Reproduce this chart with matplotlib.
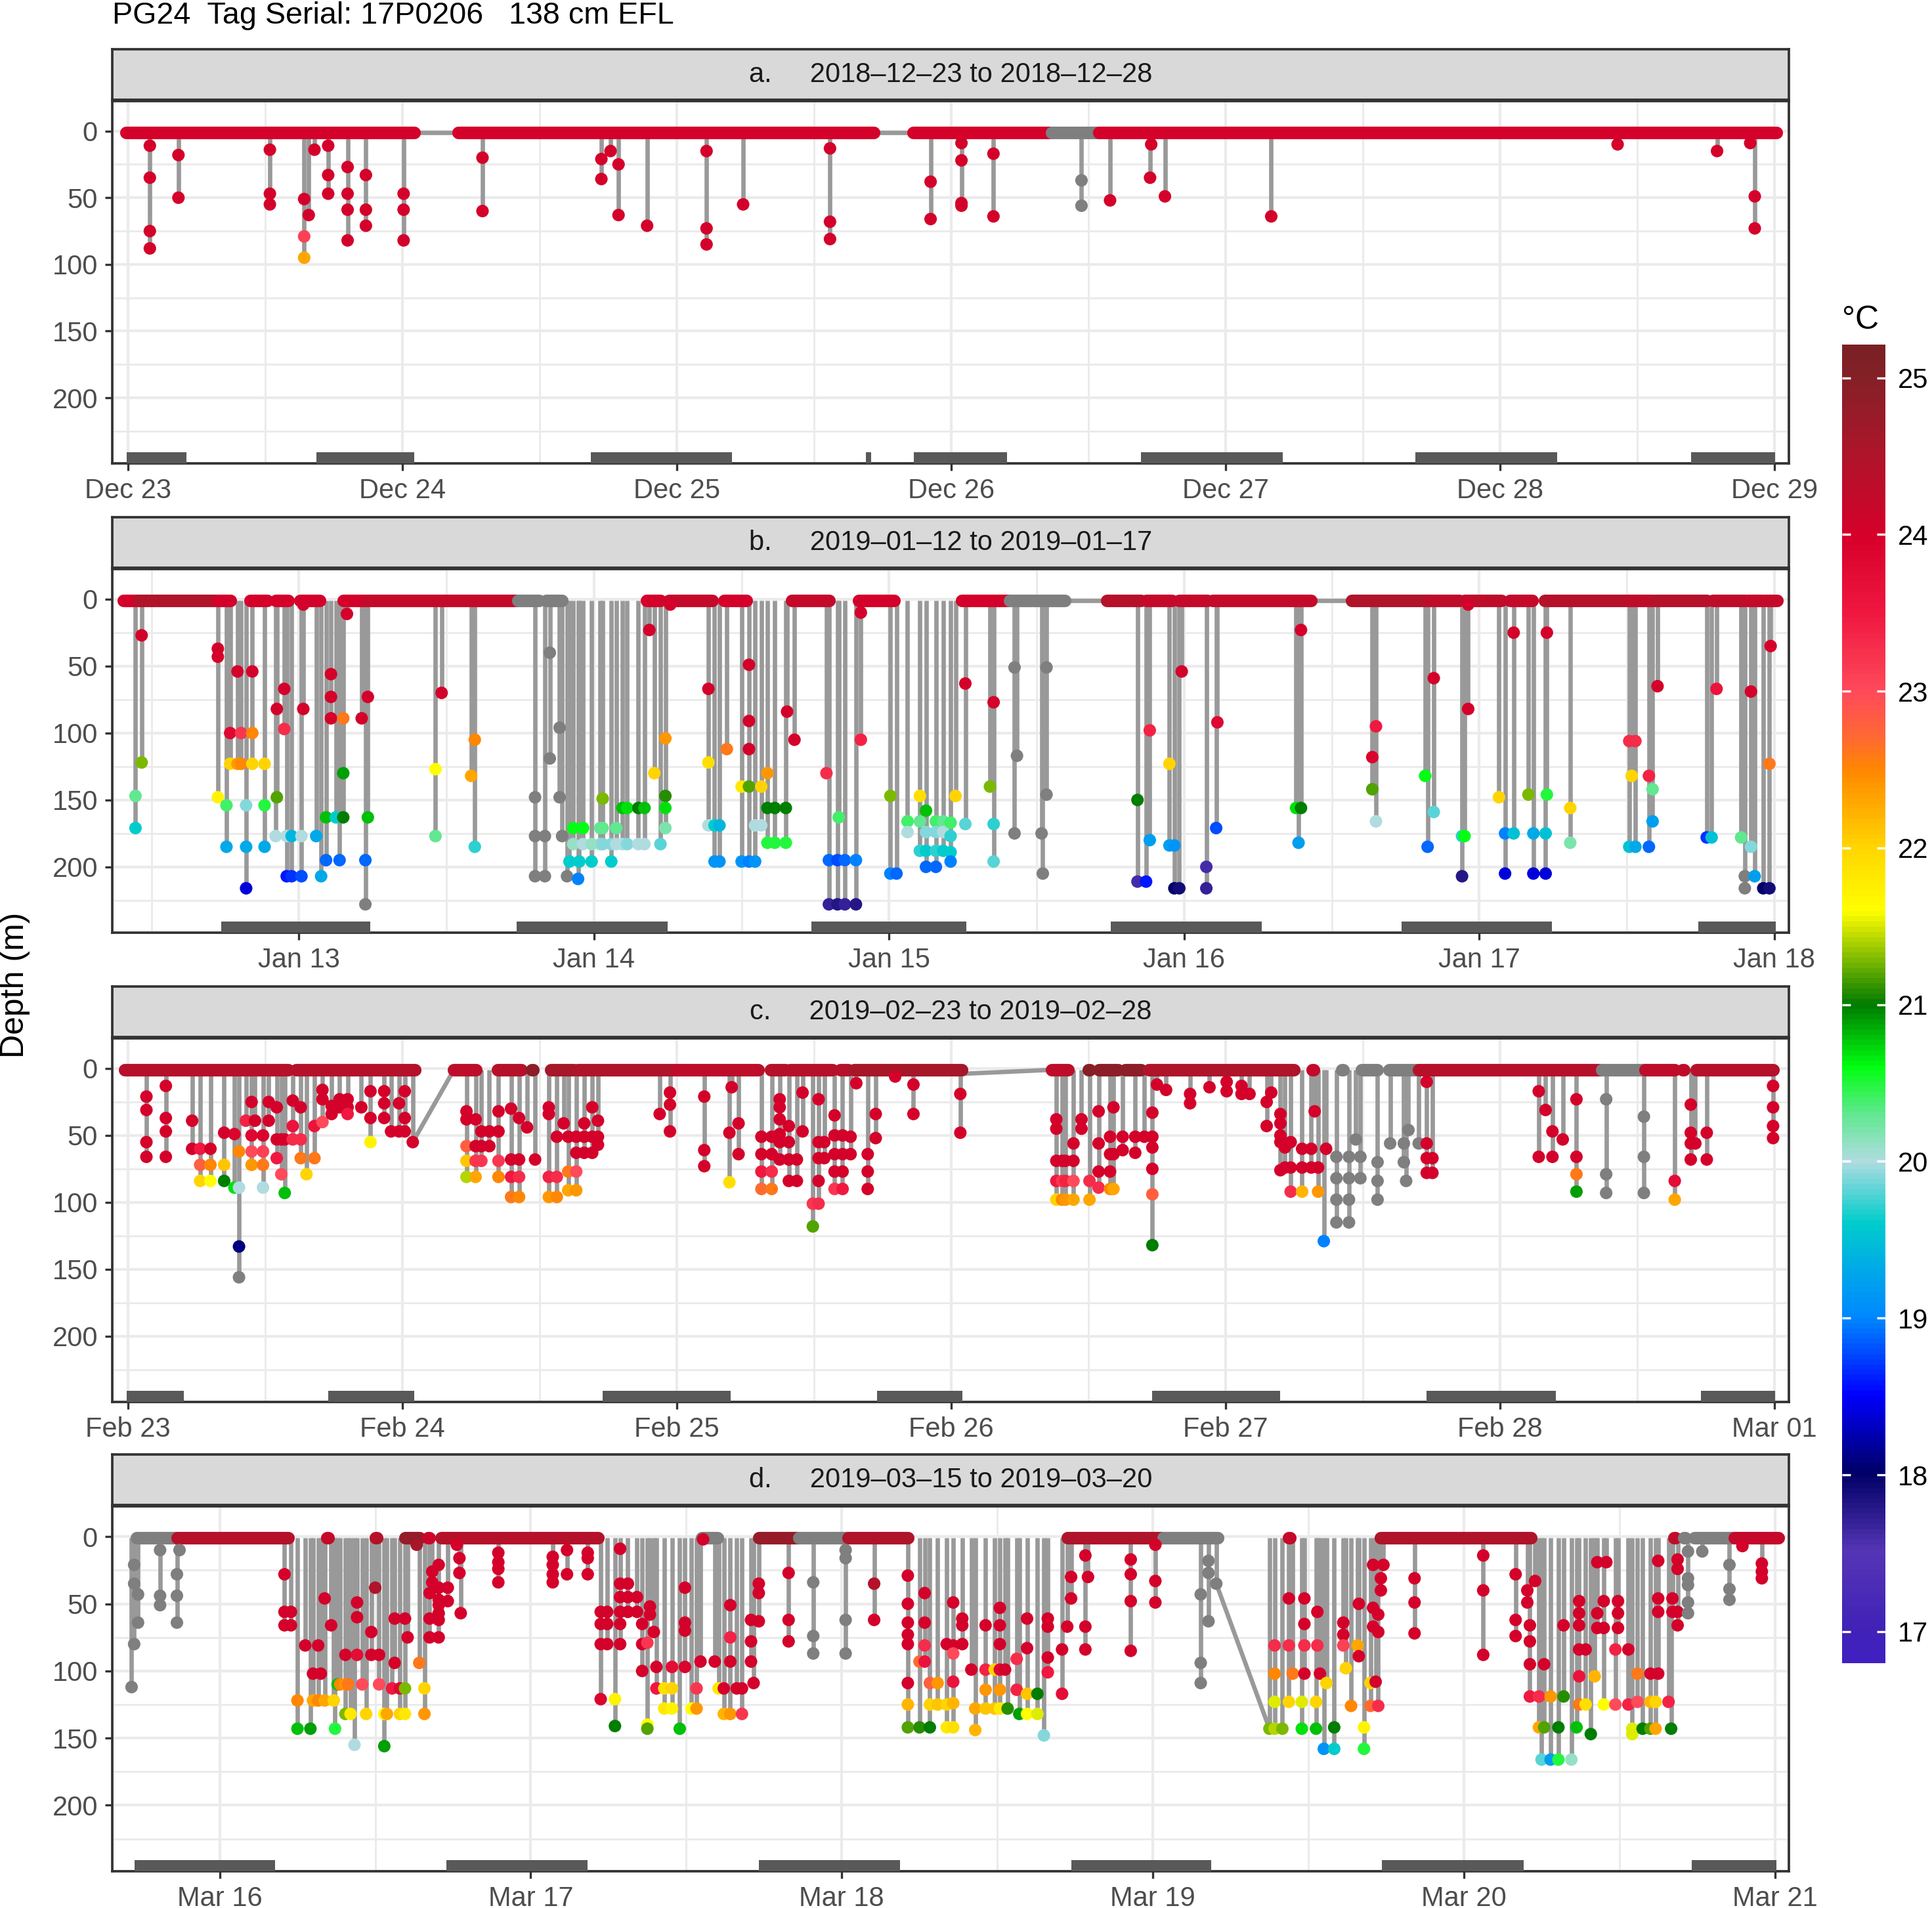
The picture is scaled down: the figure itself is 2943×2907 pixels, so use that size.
import numpy as np
import matplotlib
matplotlib.use("Agg")
import matplotlib.pyplot as plt
import matplotlib.dates as mdates
from matplotlib.colors import LinearSegmentedColormap, Normalize
from matplotlib.cm import ScalarMappable
from matplotlib.ticker import FixedLocator
import datetime as dt

plt.rcParams['font.family'] = ['Liberation Sans', 'DejaVu Sans']

nan = np.nan

# ---- panel set-up -----------------------------------------------------
panel_labels = ["a.     2018\u201312\u201323 to 2018\u201312\u201328",
                "b.     2019\u201301\u201312 to 2019\u201301\u201317",
                "c.     2019\u201302\u201323 to 2019\u201302\u201328",
                "d.     2019\u201303\u201315 to 2019\u201303\u201320"]
panel_days = [dt.datetime(2018, 12, 23), dt.datetime(2019, 1, 13),
              dt.datetime(2019, 2, 23), dt.datetime(2019, 3, 16)]
# x range of each panel, hours after the panel day
panel_hours = [(-1.4, 145.3), (-15.2, 121.2), (-1.4, 145.3), (-8.3, 121.1)]

# ---- temperature scale ------------------------------------------------
temp_nodes = [16.8, 17.0, 17.5, 18.0, 18.5, 19.0, 19.3, 19.6, 20.0, 20.3, 20.6,
              21.0, 21.5, 21.6, 22.0, 22.5, 22.7, 23.0, 23.5, 24.0, 24.5, 25.0, 25.21]
temp_colors = ["#4020c0", "#4022b8", "#5535b5", "#000066", "#0000ff", "#0088ff",
               "#00a8e8", "#00cccc", "#b0dce0", "#60e890", "#00ff10", "#007a00",
               "#d8e800", "#ffff00", "#ffd600", "#ff8800", "#ff6a30", "#ff4a5a",
               "#f01840", "#d6002a", "#b0142a", "#852027", "#7a2024"]
temp_ticks = [17, 18, 19, 20, 21, 22, 23, 24, 25]

# ---- surface runs: (start h, end h, temp) ----------------------------
a_surface = [(-0.2, 25.0, 24.0), (28.9, 65.2, 24.0), (68.7, 80.8, 24.0),
             (80.8, 84.9, nan), (84.9, 144.2, 24.0)]
b_surface = [(-14.3, -13.0, 24.0), (-13.0, -6.6, 24.5), (-6.6, -5.6, 24.0),
             (-4.0, -2.6, 24.0), (-1.9, -0.9, 24.0), (0.1, 1.7, 24.0),
             (3.6, 5.4, 24.0), (5.5, 10.3, 24.2), (10.3, 17.8, 24.2),
             (17.8, 19.5, nan), (20.1, 21.4, nan), (28.3, 29.4, 24.0),
             (30.1, 33.6, 24.2), (34.6, 36.4, 24.0), (40.1, 43.1, 24.2),
             (45.5, 48.4, 24.0), (53.9, 57.8, 24.0), (57.8, 62.3, nan),
             (65.7, 68.5, 24.4), (68.9, 71.0, 24.2), (71.6, 73.9, 24.2),
             (74.3, 82.3, 24.2), (85.6, 91.9, 24.5), (91.9, 94.4, 24.3),
             (94.8, 97.8, 24.3), (98.5, 100.3, 24.2), (101.3, 108.1, 24.4),
             (108.1, 110.1, 24.3), (110.3, 114.5, 24.4), (115.0, 117.6, 24.3),
             (117.8, 119.1, 24.2), (119.3, 120.2, 24.2)]
c_surface = [(-0.3, 14.0, 24.4), (14.7, 25.1, 24.4), (28.5, 30.4, 24.3),
             (32.3, 34.4, 24.4), (35.3, 35.4, 24.9), (37.0, 39.0, 24.6),
             (39.3, 48.0, 24.5), (48.0, 55.1, 24.3), (56.2, 57.5, 24.4),
             (57.9, 61.6, 24.4), (62.3, 63.0, 24.4), (63.5, 72.9, 24.6),
             (80.8, 82.2, 24.3), (84.0, 84.1, 25.0), (84.9, 86.6, 24.9),
             (87.2, 88.6, 24.9), (89.3, 102.0, 24.5), (103.6, 103.7, 24.2),
             (106.2, 106.3, nan), (107.9, 109.3, nan), (110.3, 112.9, nan),
             (112.9, 128.9, 24.4), (128.9, 132.7, nan), (132.7, 135.3, 24.3),
             (136.0, 136.1, 24.3), (137.2, 143.9, 24.4)]
d_surface = [(-6.4, -3.3, nan), (-3.3, 5.3, 24.4), (8.3, 8.4, 24.2),
             (12.0, 12.1, 24.4), (14.3, 15.4, 24.8), (16.1, 16.2, 24.1),
             (17.1, 29.2, 24.4), (37.2, 38.4, nan), (41.6, 44.7, 24.8),
             (44.7, 48.5, nan), (48.5, 53.1, 24.5), (65.4, 72.8, 24.5),
             (72.8, 77.0, nan), (82.5, 82.6, 24.2), (89.6, 101.2, 24.5),
             (112.2, 112.3, 24.3), (113.0, 113.1, nan), (113.8, 116.9, nan),
             (116.9, 120.3, 24.2)]

# ---- links between records: (h0, depth0, h1, depth1) -------------------
a_links = [(25.0, 1, 28.9, 1), (65.2, 1, 68.7, 1)]
b_links = [(62.3, 1, 65.7, 1), (82.3, 1, 85.6, 1)]
c_links = [(24.9, 55, 28.5, 1), (72.9, 4, 80.8, 1)]
d_links = [(76.9, 35, 81.0, 143)]

# ---- dives: (hour, depths, temps) -------------------------------------
a_dives = [
    (1.9, [11, 35, 75, 88], 24), (4.4, [18, 50], 24), (12.4, [14, 47, 55], 24),
    (15.4, [51, 79, 95], [24, 23.1, 22.3]), (15.8, [63], 24), (16.3, [14], 24),
    (17.5, [11, 33, 47], 24), (19.2, [27, 47, 59, 82], 24), (20.8, [33, 59, 71], 24),
    (24.1, [47, 59, 82], 24), (31.0, [20, 60], 24), (41.4, [21, 36], 24),
    (42.2, [15], 24), (42.9, [25, 63], 24), (45.4, [71], 24),
    (50.6, [15, 73, 85], 24), (53.8, [55], 24), (61.4, [13, 68, 81], 24),
    (70.2, [38, 66], 24), (72.9, [9, 22, 54, 56], 24), (75.7, [17, 64], 24),
    (83.4, [37, 56], nan), (85.9, [52], 24), (89.4, [35], 24), (89.5, [10], 24),
    (90.7, [49], 24), (100.0, [64], 24), (130.3, [10], 24), (139.0, [15], 24),
    (141.9, [9], 24), (142.3, [49, 73], 24)]

b_dives = [
    (-13.3, [147, 171], [20.3, 19.6]), (-12.8, [27, 122], [24, 21.3]),
    (-6.6, [37, 43, 148], [24, 24, 21.7]), (-5.9, [154, 185], [20.4, 19.3]),
    (-5.6, [100, 123], [23.8, 22.0]), (-5.0, [54, 123], [24, 22.4]),
    (-4.7, [100, 123], [23.2, 22.5]), (-4.3, [154, 185, 216], [19.9, 19.3, 18.4]),
    (-3.8, [54, 100, 123], [24, 22.5, 22.0]), (-2.8, [123, 154, 185], [22.0, 20.5, 19.3]),
    (-1.8, [82, 148], [24, 21.2]), (-1.2, [67, 97], [24, 23.3]),
    (-1.9, [177], [20.0]), (-1.0, [177, 207], [20.0, 18.6]),
    (-0.6, [177, 207], [19.4, 18.7]), (0.2, [177, 207], [20.0, 18.8]),
    (0.35, [4, 82], 24), (1.4, [177], [19.3]), (1.8, [207], [19.3]),
    (2.2, [163, 195], [20.8, 18.9]), (2.6, [56, 73, 89], 24), (3.0, [163], [19.6]),
    (3.3, [195], [18.9]), (3.6, [89, 130, 163], [22.6, 20.9, 21.0]),
    (3.9, [11], 24), (5.1, [89], 24), (5.4, [195, 228], [18.9, nan]),
    (5.6, [73, 163], [24, 20.8]), (11.1, [127, 177], [21.6, 20.3]),
    (11.6, [70], 24), (14.0, [132], [22.3]), (14.3, [105, 185], [22.5, 19.7]),
    (19.2, [148, 177, 207], nan), (20.0, [177, 207], nan), (20.4, [40, 119], nan),
    (21.2, [96, 148], nan), (21.4, [177], nan), (21.8, [207], nan),
    (22.0, [196], [19.6]), (22.3, [171, 183], [20.6, 20.1]), (22.7, [209], [19.0]),
    (22.8, [196], [19.6]), (23.1, [171, 183], [20.6, 20.0]),
    (23.8, [183, 196], [20.1, 19.6]), (24.5, [171, 183], [20.3, 20.1]),
    (24.7, [149, 171, 183], [21.3, 20.3, 19.9]), (25.4, [183, 196], [19.9, 19.6]),
    (25.8, [171, 183], [20.3, 20.0]), (26.3, [156, 183], [20.8, 20.0]),
    (26.7, [156, 183], [20.7, 19.9]), (27.6, [156, 183], [21.0, 20.0]),
    (28.1, [156, 183], [20.8, 20.0]), (28.5, [23], 24), (28.9, [130], [22.0]),
    (29.4, [183], [19.8]), (29.8, [104, 147, 156, 171], [22.4, 21.1, 20.7, 20.2]),
    (30.2, [4], 24), (33.3, [67, 122, 169], [24, 21.9, 20.0]),
    (33.8, [169, 196], [19.6, 19.1]), (34.2, [169, 196], [19.4, 19.1]),
    (34.8, [112], [22.6]), (36.0, [140, 196], [21.8, 19.1]),
    (36.6, [49, 91, 112, 140, 196], [24, 24, 24, 21.2, 19.0]),
    (37.1, [169, 196], [20.0, 19.1]), (37.6, [140, 169], [22.0, 20.0]),
    (38.1, [130, 156, 182], [22.4, 21.0, 20.5]), (38.7, [156, 182], [21.0, 20.5]),
    (39.6, [156, 182], [21.0, 20.5]), (39.7, [84], 24), (40.3, [105], 24),
    (42.9, [130], [23.3]), (43.1, [195, 228], [18.9, 17.7]),
    (43.8, [195, 228], [18.8, 17.8]), (43.9, [163], [20.4]),
    (44.4, [195, 228], [18.9, 17.7]), (45.3, [195, 228], [19.0, 17.8]),
    (45.7, [10, 105], [24, 23.4]), (48.1, [147, 205], [21.3, 19.0]),
    (48.6, [205], [18.9]), (49.5, [166, 174], [20.4, 20.0]),
    (50.5, [147, 166, 188], [21.9, 20.3, 19.7]),
    (51.0, [158, 174, 188, 200], [20.8, 19.9, 19.6, 18.9]),
    (51.8, [166, 174, 188, 200], [20.4, 19.9, 19.7, 18.9]),
    (52.4, [166, 174, 188], [20.3, 20.0, 19.6]),
    (53.0, [167, 177, 189, 196], [20.4, 19.7, 19.6, 19.0]),
    (53.4, [147], [22.0]), (54.2, [63, 168], [24, 19.8]), (56.2, [140], [21.3]),
    (56.5, [77, 168, 196], [24, 19.7, 19.8]), (58.2, [51, 175], nan),
    (58.4, [117], nan), (60.4, [175], nan), (60.5, [205], nan),
    (60.8, [51, 146], nan), (68.2, [150, 211], [21.0, 17.6]), (68.9, [211], [18.6]),
    (69.2, [98, 180], [23.4, 19.2]), (70.8, [123, 184], [22.0, 19.2]),
    (71.2, [184, 216], [19.1, 18.0]), (71.6, [216], [17.9]), (71.8, [54], 24),
    (73.8, [200, 216], [17.6, 17.7]), (74.6, [171], [18.8]), (74.7, [92], [23.8]),
    (81.1, [156], [20.7]), (81.3, [182], [19.2]), (81.5, [23, 156], [24, 21.0]),
    (87.3, [118, 142], [23.9, 21.2]), (87.6, [95, 166], [23.5, 20.0]),
    (91.6, [132], [20.6]), (91.8, [185], [18.9]), (92.3, [59, 159], [24, 19.8]),
    (94.6, [177, 207], [19.7, 17.8]), (94.8, [177], [20.6]), (95.1, [4, 82], 24),
    (97.6, [148], [22.0]), (98.1, [175, 205], [19.0, 18.4]),
    (98.8, [25, 175], [24, 19.5]), (100.0, [146], [21.3]),
    (100.4, [175, 205], [19.3, 18.4]), (101.4, [175, 205], [19.5, 18.4]),
    (101.5, [25, 146], [24, 20.5]), (103.4, [156, 182], [22.0, 20.2]),
    (108.2, [106, 185], [23.3, 19.5]), (108.4, [132], [22.0]),
    (108.7, [106, 185], [23.3, 19.3]), (109.8, [132, 185], [23.4, 18.9]),
    (110.1, [142, 166], [20.3, 19.2]), (110.5, [65], 24), (114.5, [178], [18.7]),
    (114.9, [178], [19.5]), (115.3, [67], [23.6]), (117.3, [178], [20.3]),
    (117.6, [207, 216], nan), (118.1, [69, 185], [24, 19.9]), (118.4, [207], [19.2]),
    (119.1, [216], [18.0]), (119.6, [123, 216], [22.6, 17.9]), (119.7, [35], 24)]

c_dives = [
    (1.6, [21, 31, 55, 66], 24), (3.3, [13, 37, 47, 66], 24), (5.6, [39, 60], 24),
    (6.3, [60, 72, 84], [23.5, 22.8, 22.0]), (7.2, [60, 72, 84], [24, 22.5, 21.6]),
    (8.4, [48, 72, 84], [24, 22.1, 21.0]), (9.3, [49, 89], [23.9, 20.7]),
    (9.7, [62, 89, 133, 156], [22.5, 20.0, 18.1, nan]), (10.3, [39], [23.4]),
    (10.8, [25, 50, 62, 72], [24, 23.8, 23.0, 22.4]), (11.1, [39], 24),
    (11.8, [50, 62, 72, 89], [23.9, 23.1, 22.6, 20.0]), (12.3, [25, 39], 24),
    (13.0, [29, 53, 67], [24, 24, 23.5]), (13.4, [53, 79], [24, 23.0]),
    (13.7, [53, 93], [24, 20.8]), (14.4, [24, 43, 53], [24, 23.6, 23.3]),
    (15.1, [29, 53, 67], [24, 23.3, 22.6]), (15.6, [79], [22.0]),
    (16.3, [43, 67], [23.6, 22.6]), (17.0, [16, 23, 40], [24, 24, 23.0]),
    (17.8, [28, 34], 24), (18.5, [23, 29], 24), (19.2, [23, 29, 34], [24, 24, 23.5]),
    (20.4, [29], 24), (21.2, [17, 37, 55], [24, 24, 21.7]), (22.4, [17, 26, 37], 24),
    (23.0, [47], 24), (23.7, [26, 47], 24), (24.2, [17, 37, 47], 24), (24.9, [55], 24),
    (29.6, [32, 38, 58, 69, 81], [24, 24, 22.8, 22.1, 21.4]),
    (30.4, [38, 58, 69, 81], [24, 24, 23.2, 22.3]), (30.9, [47, 58, 69], [24, 24, 23.2]),
    (31.6, [47, 58], 24), (32.4, [32, 47, 69, 81], [24, 24, 23.2, 22.5]),
    (33.5, [30, 68, 81, 96], [24, 24, 23.5, 22.6]),
    (34.2, [37, 68, 81, 96], [24, 24, 23.3, 22.5]), (34.9, [44], 24), (35.6, [68], 24),
    (36.8, [29, 34, 81, 96], [24, 24, 23.4, 22.4]), (37.5, [51, 81, 96], [24, 23.3, 22.5]),
    (38.1, [41], 24), (38.5, [51, 77, 91], [24, 22.6, 22.3]),
    (39.2, [51, 63, 77, 91], [24, 24, 23.0, 22.4]), (39.9, [41, 51, 63], 24),
    (40.6, [29, 51, 63], 24), (41.1, [39, 51, 57], 24), (46.5, [34], 24),
    (47.4, [18, 27, 47], 24), (50.4, [21, 61, 73], 24), (52.6, [48, 85], [24, 21.9]),
    (52.8, [14], 24), (53.4, [41, 64], 24),
    (55.4, [51, 64, 77, 90], [24, 24, 23.5, 22.7]),
    (56.3, [51, 64, 77, 90], [24, 24, 23.3, 22.6]),
    (57.0, [23, 29, 38, 49, 55, 68], 24), (57.8, [43, 55, 68, 84], 24),
    (58.5, [68, 84], 24), (59.0, [18, 47], 24), (59.9, [101, 118], [23.2, 21.2]),
    (60.4, [23, 55, 67, 84, 101], [24, 24, 24, 24, 23.3]), (60.9, [55, 67], 24),
    (61.8, [35, 50, 64, 77, 90], [24, 24, 24, 24, 23.2]),
    (62.5, [50, 64, 77, 90], [24, 24, 24, 23.5]), (63.2, [51, 64], 24),
    (63.7, [11], 24), (64.7, [64, 77, 90], 24), (65.4, [34, 52], 24),
    (67.1, [6], 24), (68.7, [12, 34], 24), (72.8, [19, 48], 24),
    (81.2, [38, 45, 69, 84, 98], [24, 24, 24, 23.5, 22.0]),
    (81.7, [69, 84, 98], [24, 23.2, 22.5]), (82.0, [69, 84, 98], [24, 23.4, 22.4]),
    (82.7, [56, 69, 84, 98], [24, 24, 23.0, 22.3]), (83.4, [38, 45], 24),
    (84.1, [84, 98], [23.3, 22.3]), (84.9, [32, 56, 77, 89], [24, 24, 24, 23.3]),
    (85.9, [51, 64, 77, 90], [24, 24, 24, 22.5]), (86.2, [29, 64, 90], [24, 24, 22.3]),
    (87.0, [51, 61], 24), (88.1, [51, 63], 24), (88.9, [51], 24),
    (89.6, [33, 51, 59, 75, 94, 132], [24, 24, 24, 24, 22.8, 21.0]),
    (90.0, [12], 24), (90.8, [16], 24), (92.9, [19, 26], 24), (94.6, [14], 24),
    (96.1, [10, 17], 24), (97.4, [13, 19], 24), (98.1, [19], 24),
    (99.6, [25, 43], 24), (100.0, [18], 24), (100.8, [34, 41, 50, 55, 76], 24),
    (101.2, [59, 74], 24), (101.7, [55, 74, 92], [24, 24, 23.3]),
    (102.7, [60, 74, 92], [24, 24, 22.2]), (103.5, [60, 74], 24), (103.8, [32], 24),
    (104.1, [74, 92], [24, 22.4]), (104.6, [129], [19.0]), (104.8, [60], 24),
    (105.7, [66, 82, 98, 115], nan), (106.8, [66, 82, 98, 115], nan),
    (107.4, [53], nan), (107.8, [66, 82], nan), (109.3, [70, 84, 98], nan),
    (110.4, [56], nan), (111.6, [56, 70], nan), (111.8, [84], nan),
    (112.0, [46], nan), (112.9, [56], nan), (113.6, [10, 56, 67, 78], 24),
    (114.1, [67, 78], 24), (123.4, [17, 66], 24), (124.0, [31], 24),
    (124.6, [47, 66], 24), (125.5, [53], 24),
    (126.7, [23, 66, 79, 92], [24, 24, 22.6, 20.9]), (129.3, [23, 79, 93], nan),
    (132.6, [36, 66, 93], nan), (135.3, [84, 98], [23.7, 22.3]),
    (136.7, [27, 48, 56, 68], 24), (137.1, [56], 24), (138.1, [48, 68], 24),
    (143.9, [13, 29, 43, 52], 24)]

d_dives = [
    (-6.8, [112], nan), (-6.6, [21, 35, 80], nan), (-6.3, [43, 64], nan),
    (-4.6, [10, 44, 51], nan), (-3.3, [28, 44, 64], nan), (-3.1, [10], nan),
    (5.0, [28, 56, 66], 24), (5.5, [56, 66], 24), (6.0, [122, 143], [22.5, 20.8]),
    (6.6, [81], 24), (7.0, [143], [20.9]), (7.2, [102, 122], [24, 22.3]),
    (7.6, [81, 122], [24, 22.5]), (7.8, [102], 24), (8.1, [46, 122], [24, 22.3]),
    (8.6, [66], 24), (8.8, [122], [22.0]), (8.9, [143], [20.5]), (9.1, [110], [20.8]),
    (9.3, [110], [22.5]), (9.7, [88, 110, 132], [24, 22.4, 21.3]), (9.9, [110], [22.6]),
    (10.1, [132], [21.8]), (10.4, [155], [20.0]), (10.6, [49, 60, 88], [24, 24, 23.7]),
    (11.0, [110], [23.0]), (11.3, [132], [22.0]), (11.7, [71, 88], 24),
    (12.0, [38], [24.5]), (12.3, [88, 110], [24, 23.0]), (12.7, [132, 156], [21.6, 20.9]),
    (12.9, [132], [22.3]), (13.3, [113], [23.5]), (13.5, [61, 94], 24),
    (13.9, [113, 132], [23.8, 22.0]), (14.3, [61, 113, 132], [24, 21.3, 21.8]),
    (14.5, [75], 24), (15.2, [6], [24.6]), (15.4, [94], [22.6]),
    (15.8, [113, 132], [22.0, 22.4]), (16.2, [42, 61, 75], 24), (16.4, [26, 34], 24),
    (16.9, [21, 38, 47, 51, 57, 62, 75], 24), (17.6, [38, 48], 24), (18.3, [6], 24),
    (18.5, [16, 27], 24), (18.6, [57], 24), (21.5, [12, 19, 24, 34], 24),
    (25.7, [15, 21, 28, 34], 24), (26.8, [10, 28], 24), (28.4, [12, 16, 28], 24),
    (29.4, [56, 65, 80, 121], [24, 24, 24, 23.9]), (29.9, [56, 65, 80], 24),
    (30.5, [121, 141], [21.7, 21.0]), (30.9, [9, 35, 45, 56, 65, 80], 24),
    (31.5, [35, 45, 56], 24), (32.2, [45, 56], 24), (32.6, [65, 80, 100], 24),
    (33.0, [79, 140, 143], [23.2, 21.6, 21.2]), (33.2, [52, 58], 24), (33.5, [71], 24),
    (33.7, [97, 113], [24, 23.5]), (34.3, [113, 128], [21.9, 21.8]),
    (34.9, [97, 113, 128], [23.7, 22.0, 21.7]), (35.5, [143], [20.8]),
    (35.9, [38, 64, 70, 97], [24, 24, 24, 23.9]), (36.4, [128], [21.6]),
    (36.8, [113, 128], [23.2, 22.4]), (37.1, [93], 24), (37.3, [2], 24),
    (38.2, [93], 24), (38.5, [113], [21.8]), (38.9, [113, 132], [24, 22.2]),
    (39.4, [51, 75, 93, 132], [24, 23.4, 24, 22.4]), (39.9, [113], 24),
    (40.3, [113, 132], [24, 23.2]), (41.0, [62, 78, 93], 24), (41.2, [109], 24),
    (41.6, [35, 42, 63], 24), (43.9, [27, 62, 78], 24), (45.8, [34, 74, 87], nan),
    (48.3, [10, 16, 62, 87], nan), (50.5, [35, 62], [24.4, 24]),
    (53.1, [29, 50, 64, 73, 80, 109, 125, 142], [24, 24, 24, 24, 24, 24, 22.2, 21.2]),
    (54.0, [93, 142], [22.7, 21.1]), (54.4, [42, 64, 81, 93], [24, 24, 23.3, 23.6]),
    (54.8, [109, 125, 142], [22.8, 22.0, 21.0]), (55.4, [109, 125], [22.4, 22.1]),
    (56.1, [80, 125, 142], [24, 22.0, 21.8]),
    (56.6, [49, 81, 87, 108, 124, 142], [24, 24, 23.0, 23.6, 22.2, 21.9]),
    (57.3, [61, 66, 80], 24), (58.0, [99], 24), (58.3, [128, 144], [22.3, 22.2]),
    (59.1, [66, 99, 114, 128], [24, 23.4, 22.4, 22.1]), (59.8, [99, 128], [22.0, 22.1]),
    (60.2, [53, 66, 80, 99, 114, 128], [24, 24, 24, 23.8, 22.4, 21.8]),
    (60.6, [99], 24), (60.8, [128], [21.1]), (61.5, [91, 114], [23.3, 23.4]),
    (61.7, [132], [20.9]), (62.3, [61, 83, 117, 132], [24, 24, 22.1, 21.6]),
    (63.1, [117, 132], [21.0, 21.5]), (63.6, [148], [19.9]),
    (63.9, [61, 67, 90, 101], [24, 24, 24, 23.5]), (65.0, [84, 117], [24, 23.7]),
    (65.4, [67], 24), (65.7, [30, 46], 24), (66.8, [14, 67, 84], 24), (67.0, [30], 24),
    (70.3, [17, 28, 48, 85], 24), (72.2, [6, 33, 49], 24), (75.7, [43, 94, 109], nan),
    (76.3, [18, 27, 63], nan), (76.9, [35], nan), (81.0, [143], [21.3]),
    (81.4, [81, 102, 123, 143], [23.3, 22.5, 21.5, 21.4]), (82.0, [143], [21.3]),
    (82.5, [46, 81, 123], [24, 23.3, 22.0]), (82.8, [102], [22.6]),
    (83.5, [123, 143], [21.5, 20.7]), (83.7, [46, 65, 81, 102], [24, 24, 23.3, 24]),
    (84.6, [123, 143], [22.0, 20.8]), (84.7, [56, 81], [24, 23.3]), (84.9, [102], 24),
    (85.2, [158], [19.1]), (85.4, [109], [22.0]), (86.0, [142, 158], [21.0, 19.6]),
    (86.7, [64, 73, 81], [24, 24, 23.1]), (86.9, [98], [22.0]), (87.3, [126], [22.5]),
    (87.8, [81], [22.3]), (87.9, [50, 89], 24), (88.3, [142, 158], [21.7, 20.5]),
    (88.8, [109, 126], [22.0, 22.7]), (89.0, [21, 53, 67], 24), (89.2, [108], 24),
    (89.4, [58, 71, 126], [24, 24, 23.3]), (89.6, [31, 40], 24), (89.8, [21], 24),
    (92.2, [31, 49, 72], 24), (97.5, [14, 40, 88], 24), (100.0, [28, 62, 74], 24),
    (100.9, [40, 49], 24), (101.1, [66, 78, 95, 119], [24, 24, 24, 23.5]),
    (101.5, [33], 24), (101.8, [119, 142], [23.3, 22.3]), (102.0, [166], [19.8]),
    (102.2, [95, 142], [24, 21.2]), (102.7, [119, 166], [22.4, 19.2]),
    (103.3, [142, 166], [21.0, 20.5]), (103.7, [66, 119], [24, 21.1]),
    (104.3, [166], [20.1]), (104.7, [142], [20.8]),
    (104.9, [48, 57, 66, 84, 104, 125], [24, 24, 24, 24, 23.6, 22.6]),
    (105.4, [84, 125], [24, 21.9]), (105.8, [147], [21.0]), (106.1, [104], [22.2]),
    (106.3, [19, 57, 68], 24), (106.8, [48, 68, 125], [24, 24, 21.6]),
    (107.0, [19], 24), (107.7, [84, 125], [23.4, 23.0]), (107.9, [48, 57, 68], 24),
    (108.7, [84, 125], [24, 23.4]), (109.0, [143, 147], [21.5, 21.5]),
    (109.4, [102, 123], [22.6, 23.0]), (109.8, [143], [21.0]),
    (110.4, [102, 123, 143], [24, 22.2, 21.2]), (110.8, [123, 143], [22.0, 22.3]),
    (111.0, [18, 46, 56, 102], 24), (111.8, [123], [23.4]), (112.0, [143], [21.0]),
    (112.1, [46, 56], 24), (112.5, [17, 24, 56, 66], 24),
    (113.3, [11, 31, 36, 49, 57], nan), (114.4, [11], nan),
    (116.5, [21, 39, 47], nan), (117.5, [7], 24), (119.0, [20, 26, 31], 24)]

# ---- night periods (start h, end h) -----------------------------------
a_night = [(-0.1, 5.1), (16.5, 25.0), (40.5, 52.8), (64.55, 65.0), (68.75, 76.9),
           (88.6, 101.0), (112.6, 125.0), (136.7, 144.1)]
b_night = [(-6.3, 5.8), (17.7, 30.0), (41.7, 54.3), (66.0, 78.3), (89.7, 101.9),
           (113.8, 120.1)]
c_night = [(-0.1, 4.85), (17.5, 25.0), (41.5, 52.7), (65.5, 73.0), (89.6, 100.8),
           (113.6, 124.9), (137.6, 144.1)]
d_night = [(-6.56, 4.28), (17.5, 28.4), (41.6, 52.5), (65.7, 76.5), (89.7, 100.6),
           (113.6, 120.1)]

surfaces = [a_surface, b_surface, c_surface, d_surface]
links = [a_links, b_links, c_links, d_links]
dives = [a_dives, b_dives, c_dives, d_dives]
nights = [a_night, b_night, c_night, d_night]

# ---- drawing ----------------------------------------------------------
lo, hi = temp_nodes[0], temp_nodes[-1]
cmap = LinearSegmentedColormap.from_list(
    "temp", [((v - lo) / (hi - lo), c) for v, c in zip(temp_nodes, temp_colors)])
norm = Normalize(vmin=lo, vmax=hi)

def temp_color(t):
    return "#7f7f7f" if np.isnan(t) else cmap(norm(t))

W, H = 1568.0, 1549.0
fig = plt.figure(figsize=(2943 / 300, 2907 / 300), dpi=300)

plot_rows = [(82, 376), (462, 757), (843, 1138), (1223, 1519)]
x0, x1 = 91, 1452
surf_depth = 1.0
line_grey = "#999999"
dot_size = 21
line_w = 1.6

for i in range(4):
    top, bot = plot_rows[i]
    ax = fig.add_axes([x0 / W, 1 - bot / H, (x1 - x0) / W, (bot - top) / H])
    sax = fig.add_axes([x0 / W, 1 - (top - 1) / H, (x1 - x0) / W, 41 / H])
    base = mdates.date2num(panel_days[i])

    def X(h):
        return base + np.asarray(h) / 24.0

    # links
    for h0, d0, h1, d1 in links[i]:
        ax.plot(X([h0, h1]), [d0, d1], color=line_grey, lw=line_w, zorder=2)

    # dive lines
    px, py, pc = [], [], []
    for h, depths, temps in dives[i]:
        temps = np.broadcast_to(np.asarray(temps, dtype=float), (len(depths),))
        ax.vlines(X(h), surf_depth, max(depths), color=line_grey, lw=line_w, zorder=2)
        for d, t in zip(depths, temps):
            px.append(X(h))
            py.append(d)
            pc.append(temp_color(t))

    # surface runs
    for h0, h1, t in surfaces[i]:
        ax.plot(X([h0, h1]), [surf_depth, surf_depth], color=temp_color(t),
                lw=4.6, solid_capstyle="round", zorder=3)

    ax.scatter(px, py, s=dot_size, c=pc, linewidths=0, zorder=4)

    # night bars
    ax.broken_barh([(X(a), (b - a) / 24.0) for a, b in nights[i]], (240.8, 9.0),
                   facecolor="#595959", edgecolor="none", zorder=5)

    ax.set_xlim(X(panel_hours[i][0]), X(panel_hours[i][1]))
    ax.set_ylim(249, -22.5)
    ax.xaxis.set_major_locator(mdates.DayLocator())
    ax.xaxis.set_minor_locator(mdates.HourLocator(byhour=[12]))
    ax.xaxis.set_major_formatter(mdates.DateFormatter("%b %d"))
    ax.yaxis.set_major_locator(FixedLocator([0, 50, 100, 150, 200]))
    ax.yaxis.set_minor_locator(FixedLocator([25, 75, 125, 175, 225]))
    ax.grid(which="major", color="#ebebeb", lw=1.0)
    ax.grid(which="minor", color="#ebebeb", lw=0.7)
    ax.set_axisbelow(True)
    ax.tick_params(which="major", length=2.75, width=0.8, color="#333333",
                   labelsize=10, labelcolor="#4d4d4d", pad=2.5)
    ax.tick_params(which="minor", length=0)
    for sp in ax.spines.values():
        sp.set_color("#333333")
        sp.set_linewidth(0.9)

    sax.set_facecolor("#d9d9d9")
    sax.set_xticks([])
    sax.set_yticks([])
    for sp in sax.spines.values():
        sp.set_color("#333333")
        sp.set_linewidth(0.9)
    sax.text(0.5, 0.5, panel_labels[i], ha="center", va="center",
             fontsize=10, color="#1a1a1a", transform=sax.transAxes)

fig.text(x0 / W, 1 - 1 / H, "PG24  Tag Serial: 17P0206   138 cm EFL",
         ha="left", va="top", fontsize=11.2)
fig.text(12 / W, 1 - 800 / H, "Depth (m)", rotation=90, ha="center",
         va="center", fontsize=12)

# colour bar
cax = fig.add_axes([1495 / W, 1 - 1350 / H, 35 / W, 1070 / H])
cb = fig.colorbar(ScalarMappable(norm=norm, cmap=cmap), cax=cax)
cb.outline.set_visible(False)
cb.set_ticks(temp_ticks)
cax.minorticks_off()
cax.tick_params(axis="y", direction="in", length=3.2, width=0.8, color="white",
                left=True, right=True, labelsize=10, labelcolor="black", pad=4.5)
fig.text(1495 / W, 1 - 260 / H, "\u00b0C", ha="left", va="center", fontsize=12)

fig.savefig("out.png", dpi=300)
